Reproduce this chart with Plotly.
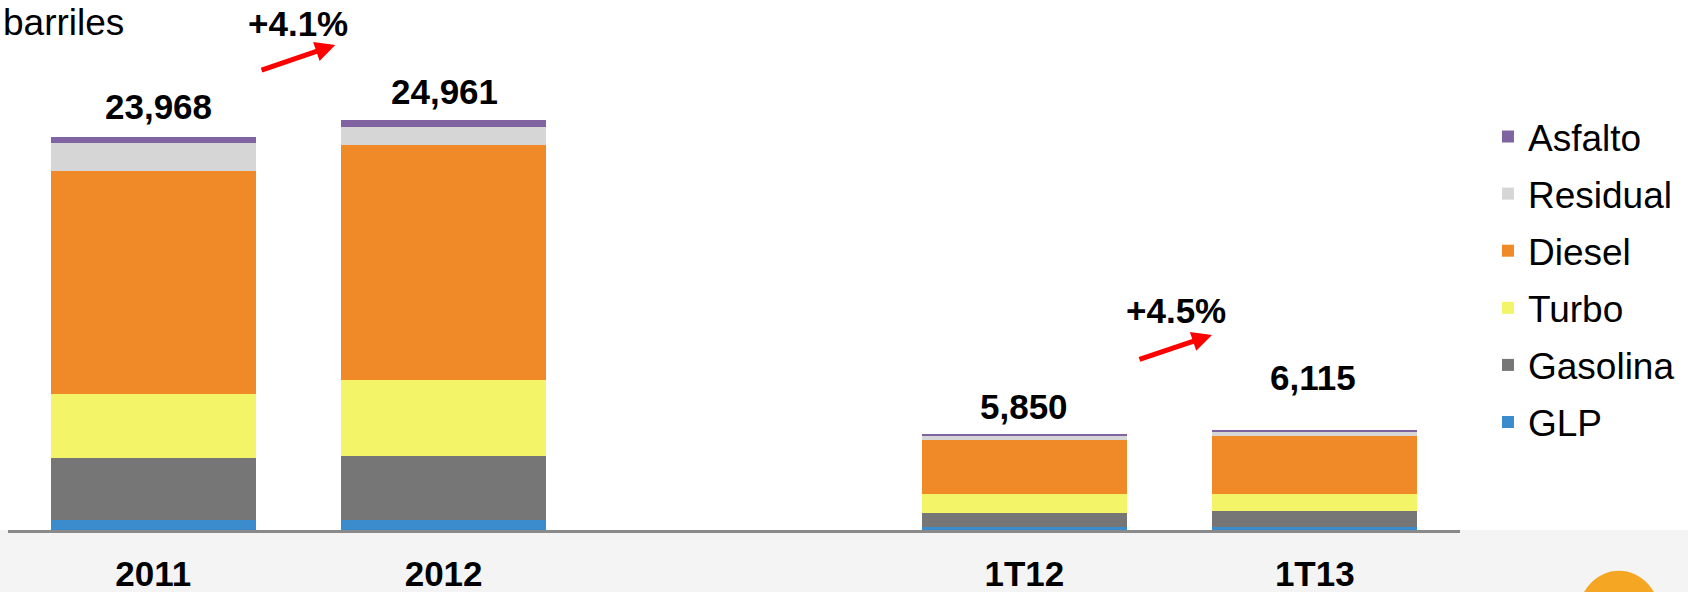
import plotly.graph_objects as go

# ---- data ----
categories = ["2011", "2012", "1T12", "1T13"]
glp = [610, 610, 200, 200]
gasolina = [3760, 3920, 860, 945]
turbo = [3940, 4590, 1130, 1030]
diesel = [13558, 14361, 3320, 3560]
residual = [1690, 1100, 230, 270]
asfalto = [410, 380, 110, 110]
totals = [23968, 24961, 5850, 6115]
unit_label = "barriles"

series = [
    ("GLP", glp, "#3a8ccc"),
    ("Gasolina", gasolina, "#767676"),
    ("Turbo", turbo, "#f4f468"),
    ("Diesel", diesel, "#f08a28"),
    ("Residual", residual, "#d6d6d6"),
    ("Asfalto", asfalto, "#8064a2"),
]

axis_order = ["2011", "2012", " ", "1T12", "1T13"]
FONT = "Arial, Liberation Sans, sans-serif"

fig = go.Figure()
n = len(series)
for i, (name, vals, col) in enumerate(series):
    fig.add_trace(go.Bar(
        x=categories, y=vals, name=name, marker_color=col,
        marker_line_width=0, legendgroup=name, legendrank=n - i,
        hoverinfo="skip",
    ))

# total labels
label_shift = [(5, 30), (1, 29), (0, 27), (-2, 52)]
for c, t, (sx, sy) in zip(categories, totals, label_shift):
    fig.add_annotation(x=axis_order.index(c), y=t, text=f"<b>{t:,}</b>",
                       showarrow=False, xshift=sx, yshift=sy,
                       font=dict(size=35, color="black", family=FONT))

# growth labels + arrows
g1 = (totals[1] / totals[0] - 1) * 100
g2 = (totals[3] / totals[2] - 1) * 100
growth = [(f"+{g1:.1f}%", 0.5, 30870, 0.368, 27985, 0.627, 29550),
          (f"+{g2:.1f}%", 3.523, 13374, 3.391, 10358, 3.646, 11881)]
for txt, tx, ty, ax0, ay0, ax1, ay1 in growth:
    fig.add_annotation(x=tx, y=ty, text=f"<b>{txt}</b>", showarrow=False,
                       font=dict(size=35, color="black", family=FONT))
    fig.add_annotation(x=ax1, y=ay1, ax=ax0, ay=ay0, xref="x", yref="y",
                       axref="x", ayref="y", text="", showarrow=True,
                       arrowhead=2, arrowsize=0.8, arrowwidth=5,
                       arrowcolor="#ff0000")

fig.add_annotation(x=0, y=1, xref="paper", yref="paper", xanchor="left",
                   yanchor="top", text=unit_label, showarrow=False,
                   xshift=-7, yshift=0,
                   font=dict(size=37, color="black", family=FONT))

# background strip under the axis and decorative corner shape
fig.add_shape(type="rect", xref="paper", yref="paper", x0=-0.01, x1=1.2,
              y0=-0.2, y1=0, fillcolor="#f4f4f4", line_width=0, layer="below")
fig.add_shape(type="circle", xref="paper", yref="paper", x0=1.081, x1=1.138,
              y0=-0.25, y1=-0.077, fillcolor="#f5a623", line_width=0,
              layer="above")

fig.update_layout(
    width=1688, height=592,
    margin=dict(l=8, r=228, t=0, b=62, autoexpand=False),
    paper_bgcolor="white", plot_bgcolor="white",
    barmode="stack", bargap=0.294,
    showlegend=True,
    legend=dict(traceorder="grouped", tracegroupgap=6, maxheight=480,
                xref="container", yref="container",
                x=0.8815, xanchor="left", y=0.821, yanchor="top",
                font=dict(size=37, color="black", family=FONT),
                bgcolor="rgba(0,0,0,0)"),
    font=dict(family=FONT),
)
fig.update_xaxes(type="category", categoryorder="array",
                 categoryarray=axis_order, range=[-0.5, 4.5],
                 showline=True, linecolor="#8a8a8a", linewidth=3,
                 ticks="", ticklabelstandoff=11, showgrid=False,
                 automargin=False,
                 tickfont=dict(size=35, color="black", family=FONT),
                 tickprefix="<b>", ticksuffix="</b>")
fig.update_yaxes(range=[0, 32291], visible=False, showgrid=False,
                 automargin=False)

fig.write_html("out.html", config={"displayModeBar": False},
               post_script="document.body.style.margin='0';")
